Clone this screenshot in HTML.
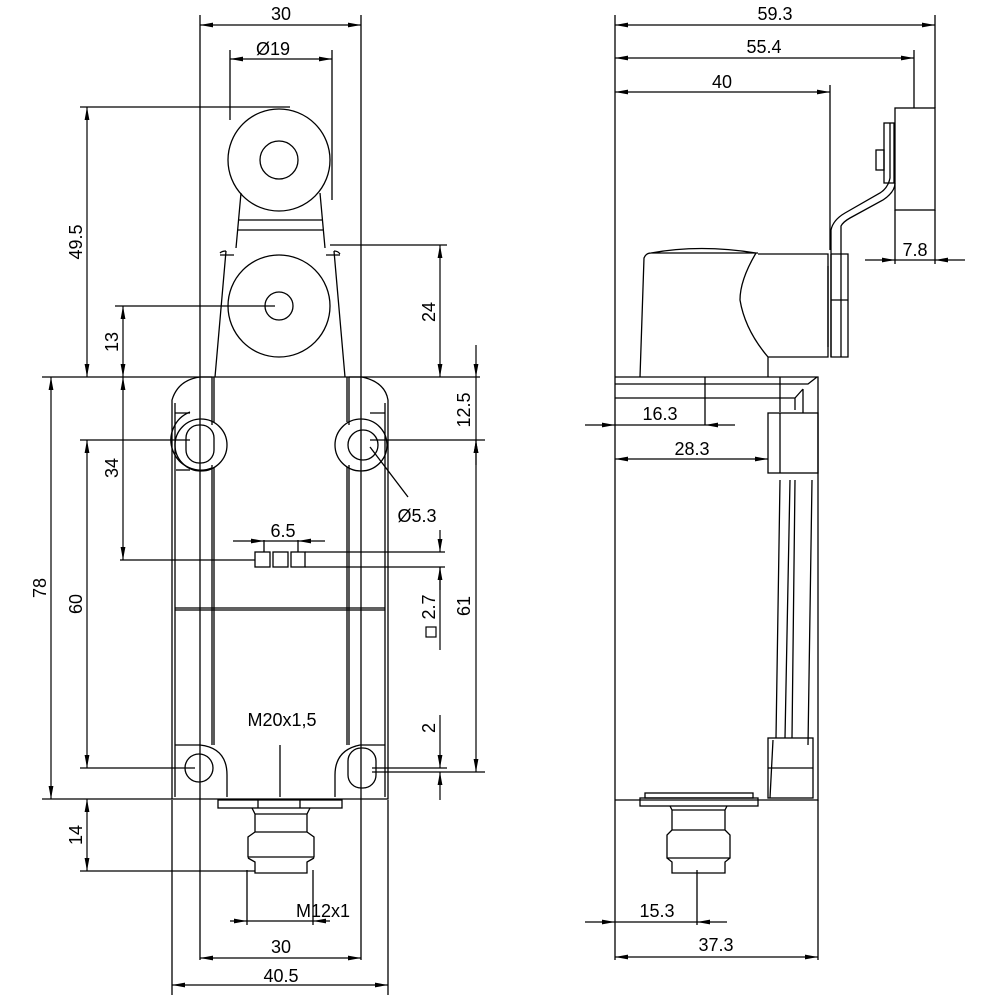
<!DOCTYPE html>
<html><head><meta charset="utf-8"><style>html,body{margin:0;padding:0;background:#fff}svg{display:block}</style></head><body>
<svg width="1000" height="1000" viewBox="0 0 1000 1000" xmlns="http://www.w3.org/2000/svg">
<defs>
<marker id="a" viewBox="0 0 13 6" refX="13" refY="3" markerWidth="13" markerHeight="6" markerUnits="userSpaceOnUse" orient="auto-start-reverse"><path d="M13 3 L0 0.6 L0 5.4 Z" fill="#000"/></marker>
</defs>
<g fill="none" stroke="#000" stroke-width="1.3">
<path d="M200 15V960 M361 15V960 M230 50V120 M332 50V200 M172 800V995 M388 800V995 M247 870V925 M313 870V925"/>
<!-- front body -->
<path d="M212 377 H200 Q178 380 172 400 V799 H388 V400 Q385 382 362 377 H349"/>
<path d="M175 403 V797 M385 403 V797"/>
<path d="M175 413 H190 M370 413 H385"/>
<path d="M212 377 V425 M214 377 V422 M347 377 V422 M349 377 V425"/>
<path d="M212 465 V745 M214 467 V745 M347 467 V745 M349 465 V745 M175 608 H385 M175 610 H385"/>
<path d="M175 745 H200 M360 745 H385"/>
<path d="M212 468 A27 27 0 0 1 190 412"/>
<path d="M176 470 H190"/>
<circle cx="201" cy="445" r="26"/>
<rect x="186" y="425" width="28" height="38" rx="13"/>
<circle cx="361" cy="445" r="26"/>
<circle cx="363" cy="445" r="15"/>
<circle cx="199" cy="768" r="14"/>
<path d="M200 745 Q227 748 227 775 V797"/>
<path d="M360 745 Q335 750 335 775 V797"/>
<rect x="348" y="748" width="28" height="40" rx="13"/>
<!-- lever -->
<circle cx="279" cy="160" r="51"/>
<circle cx="279" cy="160" r="19"/>
<circle cx="279" cy="306" r="51"/>
<circle cx="279" cy="306" r="14"/>
<path d="M241 193 L236 248 M320 193 L325 248 M238 220 H322 M237 230 H323"/>
<path d="M226 251 L215 377 M334 251 L345 377 M220 255 H234 M326 255 H340 M220 253 Q222 251 226 251 M334 251 Q338 251 340 254"/>
<rect x="255" y="552" width="15" height="15"/><rect x="273" y="552" width="15" height="15"/><rect x="291" y="552" width="14" height="15"/>
<path d="M120 560 H255 M305 552 H445 M305 567 H445 M264 540 V552 M298 540 V552"/>
<path d="M280 745 V797"/>
<rect x="218" y="800" width="124" height="8"/>
<path d="M258 800 V808 M300 800 V808"/>
<path d="M252 808 L255 814 H307 L310 808 M255 814 V832 H307 V814 M255 832 L248 837 V857 H314 V837 L307 832 M248 858 L255 862 V873 H307 V862 L314 858"/>
<path d="M80 107 H290 M115 306 H275 M330 245 H447 M42 377 H480 M80 440 H190 M370 440 H485 M80 768 H195 M372 768 H447 M372 772 H485 M42 799 H172 M80 871 H255"/>
<path d="M370 447 L408 497"/>
</g>
<g stroke="#000" stroke-width="1.2" fill="none">
<path d="M200 25 H361" marker-start="url(#a)" marker-end="url(#a)"/>
<path d="M230 59 H332" marker-start="url(#a)" marker-end="url(#a)"/>
<path d="M87 107 V377" marker-start="url(#a)" marker-end="url(#a)"/>
<path d="M123 306 V377" marker-start="url(#a)" marker-end="url(#a)"/>
<path d="M51 377 V799" marker-start="url(#a)" marker-end="url(#a)"/>
<path d="M123 377 V560" marker-start="url(#a)" marker-end="url(#a)"/>
<path d="M87 440 V768" marker-start="url(#a)" marker-end="url(#a)"/>
<path d="M440 245 V377" marker-start="url(#a)" marker-end="url(#a)"/>
<path d="M476 440 V772" marker-start="url(#a)" marker-end="url(#a)"/>
<path d="M87 799 V871" marker-start="url(#a)" marker-end="url(#a)"/>
<path d="M200 958 H361" marker-start="url(#a)" marker-end="url(#a)"/>
<path d="M172 985 H388" marker-start="url(#a)" marker-end="url(#a)"/>
<path d="M476 345 V377" marker-end="url(#a)"/><path d="M476 465 V440" marker-end="url(#a)"/><path d="M476 377 V440"/>
<path d="M233 541 H264" marker-end="url(#a)"/><path d="M325 541 H298" marker-end="url(#a)"/><path d="M264 541 H298"/>
<path d="M440 530 V552" marker-end="url(#a)"/><path d="M440 590 V567" marker-end="url(#a)"/><path d="M440 567 V650"/>
<path d="M440 715 V768" marker-end="url(#a)"/><path d="M440 800 V772" marker-end="url(#a)"/>
<path d="M230 921 H247" marker-end="url(#a)"/><path d="M330 921 H313" marker-end="url(#a)"/><path d="M247 921 H313"/>
</g>
<g fill="none" stroke="#000" stroke-width="1.3">
<path d="M615 15 V960 M935 15 V108 M914 50 V108 M830 85 V250 M818 800 V960 M697 870 V925"/>
<path d="M615 377 H818 V800 H615 M615 384 H808 L817 377 M615 398 H795 L803 389 M795 398 V410 M803 389 V413"/>
<path d="M780 377 V412 M705 377 V425"/>
<rect x="768" y="413" width="50" height="60"/>
<path d="M780 413 V473 M780 480 L776 738 M790 480 L785 738 M795 480 L792 738 M812 480 L808 745"/>
<rect x="768" y="738" width="45" height="60"/>
<path d="M768 768 H813 M770 798 L773 740"/>
<rect x="640" y="798" width="118" height="8"/>
<rect x="645" y="793" width="108" height="5"/>
<path d="M670 806 L672 810 H725 L727 806 M672 810 V830 H725 V810 M672 830 L667 835 V858 H730 V835 L725 830 M667 858 L672 862 V873 H725 V862 L730 858"/>
<path d="M640 377 L644 258 Q646 253 651 253 H758 M651 253 Q700 244 756 253 Q740 280 740 300 Q745 330 768 357 V377 M768 357 H828 V254 H758"/>
<path d="M828 266 V347 M831 254 V357 H848 V254 H831 M831 300 H848"/>
<path d="M831 357 V230 Q833 220 845 213 L880 193 Q888 188 890 178 V123 M841 357 V226 Q843 222 850 218 L883 200 Q895 192 895 183"/>
<rect x="884" y="123" width="10" height="60"/>
<rect x="876" y="150" width="8" height="20"/>
<rect x="895" y="108" width="40" height="102"/>
<path d="M895 210 V264 M935 210 V264"/>
</g>
<g stroke="#000" stroke-width="1.2" fill="none">
<path d="M615 25 H935" marker-start="url(#a)" marker-end="url(#a)"/>
<path d="M615 58 H914" marker-start="url(#a)" marker-end="url(#a)"/>
<path d="M615 92 H830" marker-start="url(#a)" marker-end="url(#a)"/>
<path d="M865 260 H895" marker-end="url(#a)"/><path d="M965 260 H935" marker-end="url(#a)"/><path d="M895 260 H935"/>
<path d="M585 425 H615" marker-end="url(#a)"/><path d="M735 425 H705" marker-end="url(#a)"/><path d="M615 425 H705"/>
<path d="M615 459 H768" marker-start="url(#a)" marker-end="url(#a)"/>
<path d="M585 922 H615" marker-end="url(#a)"/><path d="M727 922 H697" marker-end="url(#a)"/><path d="M615 922 H697"/>
<path d="M615 957 H818" marker-start="url(#a)" marker-end="url(#a)"/>
</g>
<g font-family="Liberation Sans, sans-serif" font-size="18" fill="#000">
<text x="281" y="20" text-anchor="middle">30</text>
<text x="273" y="55" text-anchor="middle">Ø19</text>
<text x="282" y="726" text-anchor="middle">M20x1,5</text>
<text x="323" y="917" text-anchor="middle">M12x1</text>
<text x="281" y="953" text-anchor="middle">30</text>
<text x="281" y="982" text-anchor="middle">40.5</text>
<text x="283" y="537" text-anchor="middle">6.5</text>
<text x="417" y="522" text-anchor="middle">Ø5.3</text>
<text transform="translate(82,242) rotate(-90)" text-anchor="middle">49.5</text>
<text transform="translate(118,342) rotate(-90)" text-anchor="middle">13</text>
<text transform="translate(46,588) rotate(-90)" text-anchor="middle">78</text>
<text transform="translate(118,468) rotate(-90)" text-anchor="middle">34</text>
<text transform="translate(82,604) rotate(-90)" text-anchor="middle">60</text>
<text transform="translate(82,835) rotate(-90)" text-anchor="middle">14</text>
<text transform="translate(435,312) rotate(-90)" text-anchor="middle">24</text>
<text transform="translate(470,410) rotate(-90)" text-anchor="middle">12.5</text>
<text transform="translate(470,606) rotate(-90)" text-anchor="middle">61</text>
<text transform="translate(435,607) rotate(-90)" text-anchor="middle">2.7</text>
<text transform="translate(435,728) rotate(-90)" text-anchor="middle">2</text>
<text x="775" y="20" text-anchor="middle">59.3</text>
<text x="764" y="53" text-anchor="middle">55.4</text>
<text x="722" y="88" text-anchor="middle">40</text>
<text x="915" y="256" text-anchor="middle">7.8</text>
<text x="660" y="420" text-anchor="middle">16.3</text>
<text x="692" y="455" text-anchor="middle">28.3</text>
<text x="657" y="917" text-anchor="middle">15.3</text>
<text x="716" y="951" text-anchor="middle">37.3</text>
</g>
<rect x="426" y="627" width="10" height="10" fill="none" stroke="#000" stroke-width="1.2"/>
</svg>
</body></html>
